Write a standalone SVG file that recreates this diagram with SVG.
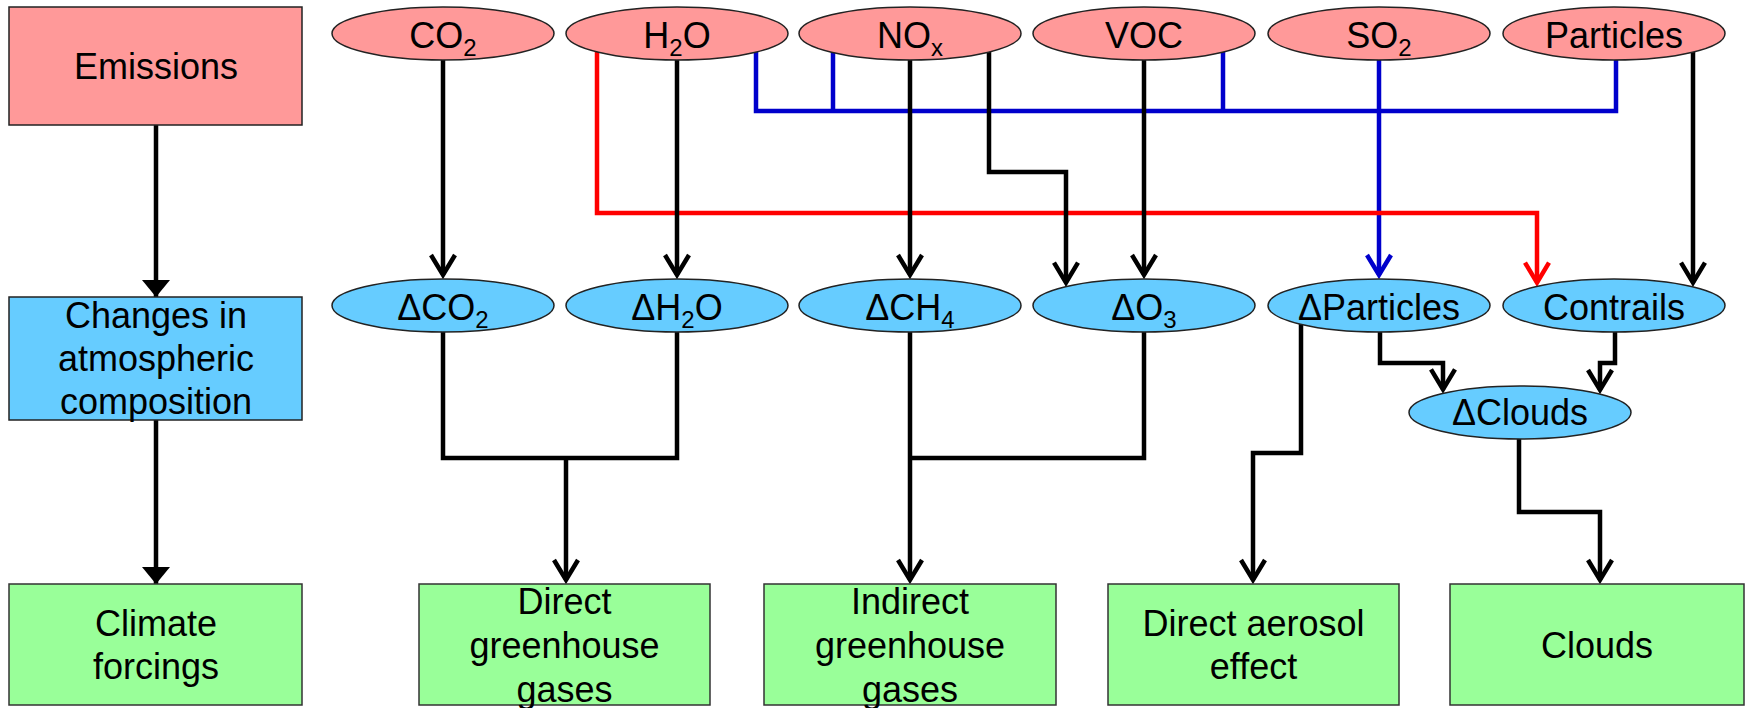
<svg xmlns="http://www.w3.org/2000/svg" width="1746" height="708" viewBox="0 0 1746 708">
<style>
.t{font-family:"Liberation Sans",Arial,sans-serif;font-size:36px;fill:#000;text-anchor:middle}
.s{font-size:24px}
.em{fill:#FF9999;stroke:#222;stroke-width:1.5}
.ch{fill:#66CCFF;stroke:#222;stroke-width:1.5}
.cf{fill:#99FF99;stroke:#333;stroke-width:1.5}
.k{fill:none;stroke:#000;stroke-width:4.5}
.b{fill:none;stroke:#0000CC;stroke-width:4.5}
.r{fill:none;stroke:#FF0000;stroke-width:4.5}
</style>
<defs>
<marker id="ak" markerUnits="userSpaceOnUse" markerWidth="40" markerHeight="40" viewBox="-30 -20 40 40" refX="0" refY="0" orient="auto"><path d="M-20,-12 L0,0 L-20,12" fill="none" stroke="#000" stroke-width="4.5"/></marker>
<marker id="ab" markerUnits="userSpaceOnUse" markerWidth="40" markerHeight="40" viewBox="-30 -20 40 40" refX="0" refY="0" orient="auto"><path d="M-20,-12 L0,0 L-20,12" fill="none" stroke="#0000CC" stroke-width="4.5"/></marker>
<marker id="ar" markerUnits="userSpaceOnUse" markerWidth="40" markerHeight="40" viewBox="-30 -20 40 40" refX="0" refY="0" orient="auto"><path d="M-20,-12 L0,0 L-20,12" fill="none" stroke="#FF0000" stroke-width="4.5"/></marker>
<marker id="af" markerUnits="userSpaceOnUse" markerWidth="40" markerHeight="40" viewBox="-30 -20 40 40" refX="0" refY="0" orient="auto"><path d="M-17,-14 L0,0 L-17,14 Z" fill="#000"/></marker>
</defs>
<g id="connectors">
<path class="k" d="M156,125 V297" marker-end="url(#af)"/>
<path class="k" d="M156,420 V584" marker-end="url(#af)"/>
<path class="b" d="M756,34 V111 H1616 V34"/>
<path class="b" d="M833,34 V111"/>
<path class="b" d="M1223,34 V111"/>
<path class="b" d="M1379,34 V275" marker-end="url(#ab)"/>
<path class="r" d="M597,34 V213 H1537 V282.6" marker-end="url(#ar)"/>
<path class="k" d="M443,34 V275" marker-end="url(#ak)"/>
<path class="k" d="M677,34 V275" marker-end="url(#ak)"/>
<path class="k" d="M910,34 V275" marker-end="url(#ak)"/>
<path class="k" d="M989,34 V172 H1066 V282.6" marker-end="url(#ak)"/>
<path class="k" d="M1144,34 V275" marker-end="url(#ak)"/>
<path class="k" d="M1693,34 V282.6" marker-end="url(#ak)"/>
<path class="k" d="M443,305 V458 H677 V305"/>
<path class="k" d="M566,458 V580" marker-end="url(#ak)"/>
<path class="k" d="M910,305 V580" marker-end="url(#ak)"/>
<path class="k" d="M1144,305 V458 H910"/>
<path class="k" d="M1301,305 V453 H1253 V580" marker-end="url(#ak)"/>
<path class="k" d="M1380,305 V363 H1443 V389.4" marker-end="url(#ak)"/>
<path class="k" d="M1615,305 V363 H1600 V390" marker-end="url(#ak)"/>
<path class="k" d="M1519,412 V512 H1600 V580" marker-end="url(#ak)"/>
</g>
<g id="emissions"><rect class="em" x="9" y="7" width="293" height="118"/><text class="t" x="156" y="79">Emissions</text></g>
<g id="changes"><rect class="ch" x="9" y="297" width="293" height="123"/><text class="t" x="156" y="328">Changes in</text><text class="t" x="156" y="371">atmospheric</text><text class="t" x="156" y="414">composition</text></g>
<g id="climate"><rect class="cf" x="9" y="584" width="293" height="121"/><text class="t" x="156" y="636">Climate</text><text class="t" x="156" y="679">forcings</text></g>
<g id="co2"><ellipse class="em" cx="443" cy="33.5" rx="111" ry="26.5"/><text class="t" x="443" y="48">CO<tspan class="s" dy="8">2</tspan></text></g>
<g id="h2o"><ellipse class="em" cx="677" cy="33.5" rx="111" ry="26.5"/><text class="t" x="677" y="48">H<tspan class="s" dy="8">2</tspan><tspan dy="-8">O</tspan></text></g>
<g id="nox"><ellipse class="em" cx="910" cy="33.5" rx="111" ry="26.5"/><text class="t" x="910" y="48">NO<tspan class="s" dy="8">x</tspan></text></g>
<g id="voc"><ellipse class="em" cx="1144" cy="33.5" rx="111" ry="26.5"/><text class="t" x="1144" y="48">VOC</text></g>
<g id="so2"><ellipse class="em" cx="1379" cy="33.5" rx="111" ry="26.5"/><text class="t" x="1379" y="48">SO<tspan class="s" dy="8">2</tspan></text></g>
<g id="particles"><ellipse class="em" cx="1614" cy="33.5" rx="111" ry="26.5"/><text class="t" x="1614" y="48">Particles</text></g>
<g id="dco2"><ellipse class="ch" cx="443" cy="305.5" rx="111" ry="26.5"/><text class="t" x="443" y="320">ΔCO<tspan class="s" dy="8">2</tspan></text></g>
<g id="dh2o"><ellipse class="ch" cx="677" cy="305.5" rx="111" ry="26.5"/><text class="t" x="677" y="320">ΔH<tspan class="s" dy="8">2</tspan><tspan dy="-8">O</tspan></text></g>
<g id="dch4"><ellipse class="ch" cx="910" cy="305.5" rx="111" ry="26.5"/><text class="t" x="910" y="320">ΔCH<tspan class="s" dy="8">4</tspan></text></g>
<g id="do3"><ellipse class="ch" cx="1144" cy="305.5" rx="111" ry="26.5"/><text class="t" x="1144" y="320">ΔO<tspan class="s" dy="8">3</tspan></text></g>
<g id="dparticles"><ellipse class="ch" cx="1379" cy="305.5" rx="111" ry="26.5"/><text class="t" x="1379" y="320">ΔParticles</text></g>
<g id="contrails"><ellipse class="ch" cx="1614" cy="305.5" rx="111" ry="26.5"/><text class="t" x="1614" y="320">Contrails</text></g>
<g id="dclouds"><ellipse class="ch" cx="1520" cy="412.5" rx="111" ry="26.5"/><text class="t" x="1520" y="425">ΔClouds</text></g>
<g id="direct-ghg"><rect class="cf" x="419" y="584" width="291" height="121"/><text class="t" x="564.5" y="614">Direct</text><text class="t" x="564.5" y="658">greenhouse</text><text class="t" x="564.5" y="702">gases</text></g>
<g id="indirect-ghg"><rect class="cf" x="764" y="584" width="292" height="121"/><text class="t" x="910" y="614">Indirect</text><text class="t" x="910" y="658">greenhouse</text><text class="t" x="910" y="702">gases</text></g>
<g id="direct-aerosol"><rect class="cf" x="1108" y="584" width="291" height="121"/><text class="t" x="1253.5" y="636">Direct aerosol</text><text class="t" x="1253.5" y="679">effect</text></g>
<g id="clouds"><rect class="cf" x="1450" y="584" width="294" height="121"/><text class="t" x="1597" y="658">Clouds</text></g>
</svg>
